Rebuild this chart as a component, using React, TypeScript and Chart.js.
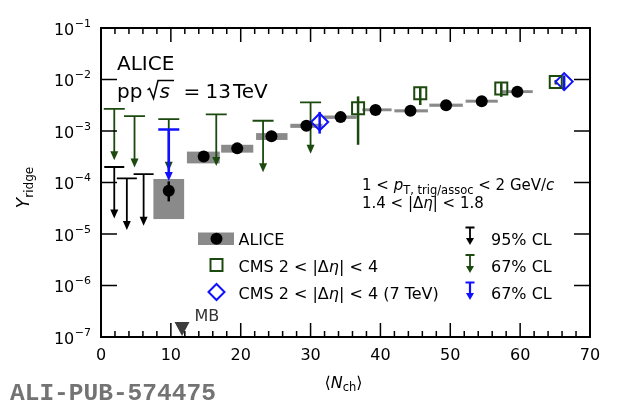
import { useEffect, useRef } from 'react';
import { Chart, registerables } from 'chart.js';

Chart.register(...registerables);

// ALICE pp 13 TeV: ridge yield vs <Nch>
const aliceNch = [9.7, 14.7, 19.5, 24.4, 29.4, 34.3, 39.3, 44.3, 49.4, 54.5, 59.6];
const aliceYield = [6.9e-5, 3.2e-4, 4.6e-4, 7.9e-4, 1.26e-3, 1.86e-3, 2.57e-3, 2.46e-3, 3.16e-3, 3.8e-3, 5.8e-3];
const aliceStatLow = [4.3e-5, 3.0e-4, 4.4e-4, 7.6e-4, 1.22e-3, 1.8e-3, 2.5e-3, 2.4e-3, 3.08e-3, 3.7e-3, 5.65e-3];
const aliceStatHigh = [1.05e-4, 3.4e-4, 4.8e-4, 8.2e-4, 1.3e-3, 1.92e-3, 2.64e-3, 2.52e-3, 3.24e-3, 3.9e-3, 5.95e-3];
const aliceBinLow = [7.5, 12.3, 17.2, 22.2, 27.1, 31.9, 37.4, 42.0, 47.0, 52.2, 57.4];
const aliceBinHigh = [11.9, 17.0, 21.8, 26.7, 31.7, 36.6, 41.6, 46.8, 51.8, 56.8, 61.8];
const aliceSysLow = [1.95e-5, 2.35e-4, 3.8e-4, 6.7e-4, 1.15e-3, 1.72e-3, 2.42e-3, 2.3e-3, 2.95e-3, 3.55e-3, 5.45e-3];
const aliceSysHigh = [1.17e-4, 3.98e-4, 5.4e-4, 9.1e-4, 1.38e-3, 2.0e-3, 2.75e-3, 2.64e-3, 3.4e-3, 4.05e-3, 6.2e-3];

// CMS 13 TeV, 2 < |deta| < 4
const cmsNch = [36.8, 45.7, 57.3, 65.1];
const cmsYield = [2.76e-3, 5.4e-3, 6.7e-3, 8.9e-3];
const cmsErrLow = [5.4e-4, 3.2e-3, 4.6e-3, 8.0e-3];
const cmsErrHigh = [4.7e-3, 7.2e-3, 8.5e-3, 9.8e-3];

// CMS 7 TeV
const cms7Nch = [31.3, 66.3];
const cms7Yield = [1.5e-3, 9.1e-3];
const cms7ErrLow = [8.9e-4, 6.5e-3];
const cms7ErrHigh = [2.35e-3, 1.2e-2];

// upper limits
const ul95Nch = [1.9, 3.7, 6.1];
const ul95Yield = [2.0e-4, 1.2e-4, 1.45e-4];
const ul67Nch = [1.9, 4.8, 9.7, 16.5, 23.2, 30.0];
const ul67Yield = [2.7e-3, 1.95e-3, 1.7e-3, 2.1e-3, 1.58e-3, 3.6e-3];
const ul67bNch = [9.7];
const ul67bYield = [1.07e-3];

const mbNch = 11.6;

const xTicks = [0, 10, 20, 30, 40, 50, 60, 70];
const yExponents = [-1, -2, -3, -4, -5, -6, -7];

const GREEN = '#1c4a0e';
const BLUE = '#1010ff';
const GRAY = '#8a8a8a';
const FF = '"DejaVu Sans", sans-serif';

type Run = { t: string; f: string; dy?: number };

function drawRuns(ctx: CanvasRenderingContext2D, runs: Run[], x: number, y: number, align = 'left') {
  let w = 0;
  runs.forEach(r => {
    ctx.font = r.f;
    w += ctx.measureText(r.t).width;
  });
  let cx = align === 'left' ? x : align === 'center' ? x - w / 2 : x - w;
  ctx.textAlign = 'left';
  ctx.textBaseline = 'alphabetic';
  runs.forEach(r => {
    ctx.font = r.f;
    ctx.fillText(r.t, cx, y + (r.dy ?? 0));
    cx += ctx.measureText(r.t).width;
  });
  return w;
}

function drawLimit(
  ctx: CanvasRenderingContext2D, x: number, yCap: number, yTip: number,
  half: number, color: string, lw: number, headW: number, headH: number,
) {
  ctx.save();
  ctx.strokeStyle = color;
  ctx.fillStyle = color;
  ctx.lineWidth = lw;
  ctx.beginPath();
  ctx.moveTo(x - half, yCap);
  ctx.lineTo(x + half, yCap);
  ctx.moveTo(x, yCap);
  ctx.lineTo(x, yTip - headH + 1);
  ctx.stroke();
  ctx.beginPath();
  ctx.moveTo(x - headW / 2, yTip - headH);
  ctx.lineTo(x + headW / 2, yTip - headH);
  ctx.lineTo(x, yTip);
  ctx.closePath();
  ctx.fill();
  ctx.restore();
}

function vbar(ctx: CanvasRenderingContext2D, x: number, y0: number, y1: number, color: string, lw: number) {
  ctx.save();
  ctx.strokeStyle = color;
  ctx.lineWidth = lw;
  ctx.beginPath();
  ctx.moveTo(x, y0);
  ctx.lineTo(x, y1);
  ctx.stroke();
  ctx.restore();
}

const ridgePlugin = {
  id: 'ridge',
  beforeDatasetsDraw(chart: any) {
    const { ctx } = chart;
    const xs = chart.scales.x;
    const ys = chart.scales.y;
    // systematic boxes
    ctx.save();
    ctx.fillStyle = GRAY;
    aliceNch.forEach((_, i) => {
      const x0 = xs.getPixelForValue(aliceBinLow[i]);
      const x1 = xs.getPixelForValue(aliceBinHigh[i]);
      const y0 = ys.getPixelForValue(aliceSysHigh[i]);
      const y1 = ys.getPixelForValue(aliceSysLow[i]);
      ctx.fillRect(x0, y0, x1 - x0, y1 - y0);
    });
    ctx.restore();
    // statistical bars
    aliceNch.forEach((n, i) => {
      vbar(ctx, xs.getPixelForValue(n), ys.getPixelForValue(aliceStatLow[i]), ys.getPixelForValue(aliceStatHigh[i]), '#000', 2.5);
    });
    // upper limits (arrow one decade long)
    ul95Nch.forEach((n, i) => {
      drawLimit(ctx, xs.getPixelForValue(n), ys.getPixelForValue(ul95Yield[i]), ys.getPixelForValue(ul95Yield[i] / 10), 10, '#000', 1.8, 8, 9);
    });
    ul67Nch.forEach((n, i) => {
      drawLimit(ctx, xs.getPixelForValue(n), ys.getPixelForValue(ul67Yield[i]), ys.getPixelForValue(ul67Yield[i] / 10), 10.5, GREEN, 1.8, 8, 9);
    });
    ul67bNch.forEach((n, i) => {
      drawLimit(ctx, xs.getPixelForValue(n), ys.getPixelForValue(ul67bYield[i]), ys.getPixelForValue(ul67bYield[i] / 10), 10.5, BLUE, 2.6, 8, 9);
    });
    cmsNch.forEach((n, i) => {
      vbar(ctx, xs.getPixelForValue(n), ys.getPixelForValue(cmsErrLow[i]), ys.getPixelForValue(cmsErrHigh[i]), GREEN, 2.5);
    });
    cms7Nch.forEach((n, i) => {
      vbar(ctx, xs.getPixelForValue(n), ys.getPixelForValue(cms7ErrLow[i]), ys.getPixelForValue(cms7ErrHigh[i]), BLUE, 2.5);
    });
  },
  afterDraw(chart: any) {
    const { ctx, chartArea: a } = chart;
    const xs = chart.scales.x;
    const ys = chart.scales.y;
    ctx.save();
    ctx.fillStyle = '#000';
    ctx.strokeStyle = '#000';

    // ticks (inward, all sides)
    ctx.lineWidth = 1.5;
    ctx.beginPath();
    for (let v = 0; v <= 70; v += 2) {
      const px = xs.getPixelForValue(v);
      const len = v % 10 === 0 ? 14 : 6;
      ctx.moveTo(px, a.bottom);
      ctx.lineTo(px, a.bottom - len);
      ctx.moveTo(px, a.top);
      ctx.lineTo(px, a.top + len);
    }
    yExponents.forEach(e => {
      const py = ys.getPixelForValue(Math.pow(10, e));
      ctx.moveTo(a.left, py);
      ctx.lineTo(a.left + 16, py);
      ctx.moveTo(a.right, py);
      ctx.lineTo(a.right - 16, py);
    });
    ctx.stroke();

    // frame
    ctx.lineWidth = 2;
    ctx.strokeRect(a.left, a.top, a.right - a.left, a.bottom - a.top);

    // tick labels
    ctx.font = `16px ${FF}`;
    ctx.textAlign = 'center';
    ctx.textBaseline = 'alphabetic';
    xTicks.forEach(v => ctx.fillText(String(v), xs.getPixelForValue(v), a.bottom + 23));
    yExponents.forEach(e => {
      const py = ys.getPixelForValue(Math.pow(10, e));
      ctx.font = `11px ${FF}`;
      const sup = `\u2212${-e}`;
      const sw = ctx.measureText(sup).width;
      ctx.textAlign = 'right';
      ctx.fillText(sup, 91, py - 1.5);
      ctx.font = `16px ${FF}`;
      ctx.fillText('10', 91 - sw - 0.5, py + 6.5);
    });

    // axis titles
    const cxMid = (a.left + a.right) / 2;
    drawRuns(ctx, [
      { t: '\u27E8', f: `16px ${FF}` },
      { t: 'N', f: `italic 16px ${FF}` },
      { t: 'ch', f: `11.5px ${FF}`, dy: 3 },
      { t: '\u27E9', f: `16px ${FF}` },
    ], cxMid - 2, 388, 'center');
    ctx.save();
    ctx.translate(29, (a.top + a.bottom) / 2 + 5);
    ctx.rotate(-Math.PI / 2);
    drawRuns(ctx, [
      { t: 'Y', f: `italic 17px ${FF}` },
      { t: 'ridge', f: `12px ${FF}`, dy: 3.5 },
    ], 0, 0, 'center');
    ctx.restore();

    // top-left labels
    ctx.textAlign = 'left';
    ctx.font = `20px ${FF}`;
    ctx.fillText('ALICE', 117, 70);
    ctx.fillText('pp', 117, 98);
    // radical sign over s
    ctx.lineWidth = 1.5;
    ctx.lineJoin = 'miter';
    ctx.beginPath();
    ctx.moveTo(147.5, 90);
    ctx.lineTo(149.5, 88.5);
    ctx.lineTo(153.5, 98.5);
    ctx.lineTo(158, 80.5);
    ctx.lineTo(174, 80.5);
    ctx.stroke();
    ctx.font = `italic 20px ${FF}`;
    ctx.fillText('s', 159.5, 98);
    ctx.font = `20px ${FF}`;
    ctx.fillText('=', 183.5, 98);
    ctx.fillText('13', 205.5, 98);
    ctx.fillText('TeV', 233, 98);

    // kinematic selection
    drawRuns(ctx, [
      { t: '1 < ', f: `15px ${FF}` },
      { t: 'p', f: `italic 15px ${FF}` },
      { t: 'T, trig/assoc', f: `11.5px ${FF}`, dy: 4 },
      { t: ' < 2 GeV/', f: `15px ${FF}` },
      { t: 'c', f: `italic 15px ${FF}` },
    ], 362, 190);
    drawRuns(ctx, [
      { t: '1.4 < |\u0394', f: `15px ${FF}` },
      { t: '\u03B7', f: `italic 15px ${FF}` },
      { t: '| < 1.8', f: `15px ${FF}` },
    ], 362, 208);

    // legend, left column
    const lx = 216.5;
    ctx.fillStyle = GRAY;
    ctx.fillRect(198, 232.5, 36, 12.5);
    ctx.fillStyle = '#000';
    ctx.beginPath();
    ctx.arc(lx, 238.7, 6, 0, Math.PI * 2);
    ctx.fill();
    ctx.strokeStyle = GREEN;
    ctx.lineWidth = 2;
    ctx.strokeRect(lx - 6, 265 - 6, 12, 12);
    ctx.strokeStyle = BLUE;
    ctx.beginPath();
    ctx.moveTo(lx - 8, 292);
    ctx.lineTo(lx, 284);
    ctx.lineTo(lx + 8, 292);
    ctx.lineTo(lx, 300);
    ctx.closePath();
    ctx.stroke();
    ctx.fillStyle = '#000';
    drawRuns(ctx, [{ t: 'ALICE', f: `16px ${FF}` }], 238.5, 244.5);
    drawRuns(ctx, [
      { t: 'CMS 2 < |\u0394', f: `16px ${FF}` },
      { t: '\u03B7', f: `italic 16px ${FF}` },
      { t: '| < 4', f: `16px ${FF}` },
    ], 238.5, 271.5);
    drawRuns(ctx, [
      { t: 'CMS 2 < |\u0394', f: `16px ${FF}` },
      { t: '\u03B7', f: `italic 16px ${FF}` },
      { t: '| < 4 (7 TeV)', f: `16px ${FF}` },
    ], 238.5, 298.5);

    // legend, right column
    drawLimit(ctx, 470, 227.5, 245, 4.5, '#000', 1.8, 8, 7);
    drawLimit(ctx, 470, 255, 273, 4.5, GREEN, 1.8, 8, 7);
    drawLimit(ctx, 470, 282.5, 300, 4.5, BLUE, 2.2, 8, 7);
    ctx.fillStyle = '#000';
    ctx.font = `16px ${FF}`;
    ctx.textAlign = 'left';
    ctx.fillText('95% CL', 491, 244.5);
    ctx.fillText('67% CL', 491, 271.5);
    ctx.fillText('67% CL', 491, 298.5);

    // MB marker
    const mx = xs.getPixelForValue(mbNch);
    ctx.fillStyle = '#3c3c3c';
    ctx.beginPath();
    ctx.moveTo(mx - 7.5, a.bottom - 15);
    ctx.lineTo(mx + 7.5, a.bottom - 15);
    ctx.lineTo(mx, a.bottom - 1);
    ctx.closePath();
    ctx.fill();
    ctx.fillStyle = '#333';
    ctx.font = `16px ${FF}`;
    ctx.fillText('MB', 194.5, 321);

    // watermark
    ctx.fillStyle = '#737373';
    ctx.font = `bold 24.5px "Liberation Mono", monospace`;
    ctx.fillText('ALI-PUB-574475', 10, 400);
    ctx.restore();
  },
};

export default function App() {
  const canvasRef = useRef<HTMLCanvasElement>(null);
  const chartRef = useRef<Chart | null>(null);

  useEffect(() => {
    if (!canvasRef.current) return;
    chartRef.current?.destroy();

    chartRef.current = new Chart(canvasRef.current, {
      type: 'scatter',
      data: {
        datasets: [
          {
            label: 'ALICE',
            data: aliceNch.map((n, i) => ({ x: n, y: aliceYield[i] })),
            pointStyle: 'circle',
            pointRadius: 6,
            backgroundColor: '#000',
            borderColor: '#000',
            borderWidth: 0,
          },
          {
            label: 'CMS 2 < |Δη| < 4',
            data: cmsNch.map((n, i) => ({ x: n, y: cmsYield[i] })),
            pointStyle: 'rect',
            pointRadius: 8.5,
            backgroundColor: 'rgba(0,0,0,0)',
            borderColor: GREEN,
            borderWidth: 2,
          },
          {
            label: 'CMS 2 < |Δη| < 4 (7 TeV)',
            data: cms7Nch.map((n, i) => ({ x: n, y: cms7Yield[i] })),
            pointStyle: 'rectRot',
            pointRadius: 8.5,
            backgroundColor: 'rgba(0,0,0,0)',
            borderColor: BLUE,
            borderWidth: 2,
          },
        ],
      },
      options: {
        responsive: false,
        animation: false,
        layout: { padding: { left: 101, right: 30, top: 28, bottom: 73 } },
        scales: {
          x: { type: 'linear', min: 0, max: 70, display: false },
          y: { type: 'logarithmic', min: 1e-7, max: 1e-1, display: false },
        },
        plugins: {
          legend: { display: false },
          tooltip: { enabled: false },
        },
      },
      plugins: [ridgePlugin],
    });

    return () => {
      chartRef.current?.destroy();
      chartRef.current = null;
    };
  }, []);

  return (
    <div style={{ position: 'fixed', left: 0, top: 0, width: 620, height: 410, background: '#fff' }}>
      <canvas ref={canvasRef} width={620} height={410} />
    </div>
  );
}
